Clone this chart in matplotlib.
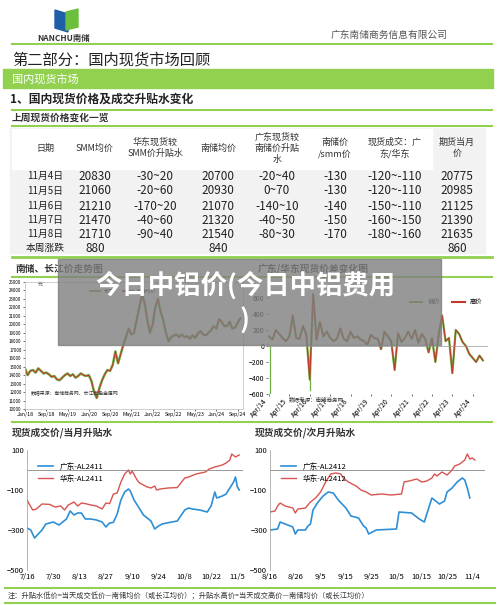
import matplotlib
matplotlib.use("Agg")
import matplotlib.pyplot as plt
from matplotlib.patches import Rectangle, Polygon

plt.rcParams['font.family'] = ['Noto Sans CJK SC', 'DejaVu Sans']

W, H = 500, 605
GREEN = '#92d050'

# ---------------- data ----------------
tbl_header = ['日期', 'SMM均价', '华东现货较\nSMM价升贴水', '南储均价', '广东现货较\n南储价升贴\n水', '南储价\n/smm价', '现货成交：广\n东/华东', '期货当月\n价']
tbl_dates = ['11月4日', '11月5日', '11月6日', '11月7日', '11月8日']
tbl_smm = ['20830', '21060', '21210', '21470', '21710']
tbl_hd = ['-30~20', '-20~60', '-170~20', '-40~60', '-90~40']
tbl_nc = ['20700', '20930', '21070', '21320', '21540']
tbl_gd = ['-20~40', '0~70', '-140~10', '-40~50', '-80~30']
tbl_ratio = ['-130', '-130', '-140', '-150', '-170']
tbl_deal = ['-120~-110', '-120~-110', '-150~-110', '-160~-150', '-180~-160']
tbl_fut = ['20775', '20985', '21125', '21390', '21635']
tbl_total = ['本周涨跌', '880', '', '840', '', '', '', '860']

# middle-left: price trend, months since Jan/18
ml_x = list(range(82))
ml_cj = [14800,14000,14500,14600,14300,14800,14500,14200,14300,14100,13800,13900,13500,13400,13700,14000,
         14200,13900,14100,13700,13900,14200,14000,13900,14000,13300,12000,11300,12500,13400,14100,14600,
         14500,15200,16800,15400,16500,17600,18500,19500,18800,19000,20500,22000,23500,22500,20500,19000,
         20000,22000,23000,21500,20500,19000,18000,18500,18700,18800,18500,18800,18500,18600,18300,18700,
         18400,18900,19200,18800,18700,19000,19300,19800,19500,20600,20300,19800,19800,20300,19500,19600,
         20200,20700]
ml_ticks = ['Jan/18','Sep/18','May/19','Jan/20','Sep/20','May/21','Jan/22','Sep/22','May/23','Jan/24','Sep/24']

# middle-right: spread, 2-month steps from Apr/14
mr_high = [120,80,200,150,100,60,120,380,100,90,250,140,-420,650,80,300,120,180,100,60,90,220,90,60,
           180,100,120,80,60,20,140,100,90,-40,180,120,60,-300,160,50,100,180,90,200,40,150,90,-80,
           100,-200,150,380,60,100,-340,200,150,50,0,-100,-150,-200,-120,-180]
mr_ticks = ['Apr/14','Apr/15','Apr/16','Apr/17','Apr/18','Apr/19','Apr/20','Apr/21','Apr/22','Apr/23','Apr/24']
mr_low_spike_x = [0.05, 2.0]
mr_low_spike_y = [-600, -550]

# bottom-left: days since 7/16
bl_x_red = [0,3,5,8,12,15,18,20,22,25,27,29,31,34,37,40,42,44,46,48,50,52,54,55,56,58,59,60,62,64,66,
            68,69,71,75,80,84,86,90,95,97,100,104,106,108,109,111,113]
bl_red = [-150,-200,-195,-170,-172,-185,-180,-200,-175,-160,-180,-165,-168,-175,-180,-195,-165,-168,
          -120,-115,-60,-20,0,-20,-5,-40,-55,-65,-75,-85,-90,-80,-100,-95,-90,-88,-40,-35,-20,-10,5,
          15,25,35,50,80,65,75]
bl_x_blue = [0,2,4,6,8,10,14,17,19,21,23,25,27,29,31,34,37,40,42,44,46,48,50,52,54,55,57,59,62,64,66,
             68,70,72,76,80,84,86,88,92,96,98,100,101,104,106,108,110,111,112,113]
bl_blue = [-290,-300,-340,-320,-300,-270,-260,-275,-260,-245,-205,-225,-215,-215,-245,-245,-250,-260,
           -285,-265,-262,-220,-150,-110,-95,-105,-150,-180,-225,-240,-255,-295,-280,-270,-262,-255,
           -200,-190,-195,-200,-210,-180,-110,-140,-130,-120,-90,-60,-35,-85,-100]
bl_ticks = ['7/16','7/30','8/13','8/27','9/10','9/24','10/8','10/22','11/5']

# bottom-right: days since 8/16
br_x_red = [0,2,3,4,6,9,10,11,14,16,18,20,22,24,26,28,29,31,34,36,38,40,44,48,52,53,55,58,60,62,64,
            65,66,68,70,72,73,75,77,78,79,80,81]
br_red = [-210,-205,-180,-165,-180,-190,-215,-195,-190,-160,-140,-110,-60,-20,-15,-20,-40,-60,-80,
          -100,-110,-125,-120,-125,-120,-60,-55,-45,-60,-55,-40,-20,-30,-10,-25,0,20,30,50,80,55,60,50]
br_x_blue = [0,3,4,6,9,10,11,14,15,16,17,19,21,23,25,27,30,32,35,37,38,39,42,50,51,56,59,61,62,64,66,
             67,69,70,72,74,76,77,78,79]
br_blue = [-300,-295,-260,-270,-285,-320,-300,-300,-280,-270,-200,-160,-130,-110,-115,-150,-190,-230,
           -240,-280,-290,-320,-300,-295,-210,-215,-245,-260,-220,-140,-160,-170,-155,-110,-90,-60,
           -40,-50,-90,-140]
br_ticks = ['8/16','8/26','9/5','9/15','9/25','10/5','10/15','10/25','11/4']

# ---------------- figure ----------------
fig = plt.figure(figsize=(W/100, H/100), dpi=100)
bg = fig.add_axes([0, 0, 1, 1])
bg.set_xlim(0, W); bg.set_ylim(H, 0); bg.axis('off')

def hline(y, x0=12, x1=492, lw=1.5):
    bg.plot([x0, x1], [y, y], color=GREEN, lw=lw)

def ax_px(x0, y0, x1, y1):
    return fig.add_axes([x0/W, 1-y1/H, (x1-x0)/W, (y1-y0)/H])

# header / logo
bg.add_patch(Polygon([[55, 10], [68, 14], [68, 32], [55, 28]], color='#1f5fa8'))
bg.add_patch(Polygon([[66, 12], [78, 9], [78, 27], [66, 30]], color='#6cbf3c'))
bg.text(37, 39, 'NANCHU南储', fontsize=6, weight='bold', color='#333333', va='center')
bg.text(448, 35, '广东南储商务信息有限公司', fontsize=7, ha='right', va='center', color='#555555')
hline(44)
bg.text(12, 60, '第二部分：国内现货市场回顾', fontsize=11, va='center', color='#222222')
bg.add_patch(Rectangle((3, 69), 490, 19, color=GREEN))
bg.text(12, 79, '国内现货市场', fontsize=8, color='white', va='center')
bg.text(10, 99, '1、国内现货价格及成交升贴水变化', fontsize=8.5, weight='bold', va='center', color='#222222')
hline(110)
bg.text(12, 118, '上周现货价格变化一览', fontsize=7, weight='bold', va='center', color='#333333')
hline(126)

# table
bg.add_patch(Rectangle((10, 128), 475, 125, color='#f2f2f2', zorder=0))
bg.add_patch(Rectangle((12, 129), 420, 40, color='white', zorder=0))
cols = [45, 95, 155, 218, 277, 335, 395, 457]
for c, h in zip(cols, tbl_header):
    bg.text(c, 148, h, fontsize=6.5, ha='center', va='center', color='#333333', linespacing=1.3)
rows_y = [176, 191, 206, 220, 234]
for i, y in enumerate(rows_y):
    vals = [tbl_dates[i], tbl_smm[i], tbl_hd[i], tbl_nc[i], tbl_gd[i], tbl_ratio[i], tbl_deal[i], tbl_fut[i]]
    for j, (c, v) in enumerate(zip(cols, vals)):
        bg.text(c, y, v, fontsize=7 if j == 0 else 8.5, ha='center', va='center', color='#222222')
for c, v in zip(cols, tbl_total):
    bg.text(c, 248, v, fontsize=7 if v == '本周涨跌' else 8.5, ha='center', va='center', color='#222222')
hline(257, lw=2)

# middle section
bg.text(15, 269, '南储、长江价走势图', fontsize=7, weight='bold', va='center', color='#333333')
bg.text(258, 269, '广东/华东现货价差变化图', fontsize=7, weight='bold', va='center', color='#333333')
hline(277)

ax1 = ax_px(25, 282, 243, 409)
ax1.plot(ml_x, ml_cj, color='#70ad47', lw=1.8)
ax1.plot(ml_x, ml_cj, color='#c0392b', lw=0.7)
ax1.set_ylim(10000, 25000)
ax1.set_yticks(range(10000, 25001, 1000))
ax1.set_yticklabels([str(v) for v in range(10000, 25001, 1000)], fontsize=3.2)
ax1.set_xticks(range(0, 82, 8)); ax1.set_xticklabels(ml_ticks, fontsize=3.8)
ax1.set_xlim(0, 82)
ax1.tick_params(length=1.5, pad=1, width=0.4)
for s in ax1.spines.values(): s.set_color('#bbbbbb'); s.set_linewidth(0.5)
ax1.text(2, 11600, '数据来源：南储商务网、长江有色金属网', fontsize=3.5, color='#333333')
ax1.text(5, 24500, '元', fontsize=3.5, color='#555555')
ax1.plot([], [], color='#70ad47', label='长江'); ax1.plot([], [], color='#c0392b', label='南储均价')
ax1.legend(loc='upper center', ncol=2, fontsize=3.5, frameon=False, bbox_to_anchor=(0.45, 0.98))

ax2 = ax_px(268, 290, 488, 394)
mx = [2014.25 + i/6 for i in range(len(mr_high))]
ax2.plot(mx, mr_high, color='#70ad47', lw=1.6)
for sx, sy in zip(mr_low_spike_x, mr_low_spike_y):
    ax2.plot([2014.25+sx, 2014.25+sx], [0, sy], color='#70ad47', lw=0.9)
ax2.plot(mx, mr_high, color='#c0392b', lw=0.8)
ax2.axhline(0, color='#999999', lw=0.5)
ax2.set_ylim(-600, 700); ax2.set_xlim(2014.2, 2025.0)
ax2.set_yticks(range(-600, 601, 200)); ax2.tick_params(labelsize=5, length=1.5, pad=1, width=0.4)
ax2.set_xticks([2014.25 + k for k in range(11)])
ax2.set_xticklabels(mr_ticks, rotation=50, fontsize=5, ha='right')
for s in ax2.spines.values(): s.set_visible(False)
ax2.plot([], [], color='#70ad47', label='低价'); ax2.plot([], [], color='#c0392b', label='高价')
ax2.legend(loc='upper right', ncol=2, fontsize=4.5, frameon=False, bbox_to_anchor=(1.0, 0.98))
ax2.text(2015.2, -690, '数据来源：南储商务网', fontsize=4, color='#333333')

hline(422)
bg.text(12, 433, '现货成交价/当月升贴水', fontsize=7, weight='bold', va='center', color='#333333')
bg.text(255, 433, '现货成交价/次月升贴水', fontsize=7, weight='bold', va='center', color='#333333')

def bottom_ax(x0, x1, xr, red, xb, blue, ticks, step, xmax, lr, lb):
    ax = ax_px(x0, 450, x1, 570)
    ax.plot(xb, blue, color='#2e8fd6', lw=1.2, label=lb)
    ax.plot(xr, red, color='#d9534f', lw=1.0, label=lr)
    ax.axhline(0, color='#888888', lw=0.6)
    ax.set_ylim(-500, 100); ax.set_xlim(0, xmax)
    ax.set_yticks([100, -100, -300, -500])
    ax.set_xticks([k*step for k in range(len(ticks))]); ax.set_xticklabels(ticks)
    ax.tick_params(labelsize=5.5, length=0, pad=2)
    for n, s in ax.spines.items():
        s.set_visible(n == 'left'); s.set_color('#999999'); s.set_linewidth(0.5)
    h, l = ax.get_legend_handles_labels()
    ax.legend(h, l, loc='upper left', fontsize=5.5, frameon=False, bbox_to_anchor=(0.02, 0.95))
    return ax

bottom_ax(27, 243, bl_x_red, bl_red, bl_x_blue, bl_blue, bl_ticks, 14, 115, '华东-AL2411', '广东-AL2411')
bottom_ax(270, 485, br_x_red, br_red, br_x_blue, br_blue, br_ticks, 10, 85, '华东-AL2412', '广东-AL2412')

hline(588, x0=5, x1=495)
bg.text(8, 596, '注：升贴水低价=当天成交低价—南储均价（或长江均价）；升贴水高价=当天成交高价—南储均价（或长江均价）',
        fontsize=5.2, va='center', color='#333333')
hline(603, x0=5, x1=495)

# overlay on top of everything
ov = fig.add_axes([0, 0, 1, 1], zorder=50)
ov.set_xlim(0, W); ov.set_ylim(H, 0); ov.axis('off')
ov.add_patch(Rectangle((58, 259), 383, 86, color='#7f7f7f', alpha=0.8))
ov.text(245, 286, '今日中铝价(今日中铝费用', fontsize=19, weight='bold', color='white', ha='center', va='center')
ov.text(245, 321, ')', fontsize=19, weight='bold', color='white', ha='center', va='center')

fig.savefig('out.png', dpi=100)
